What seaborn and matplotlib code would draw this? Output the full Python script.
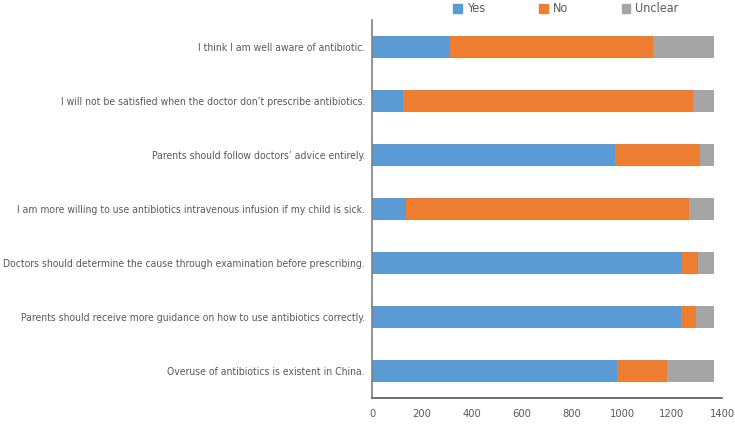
import numpy as np
import pandas as pd
import matplotlib.pyplot as plt
import seaborn as sns
from matplotlib.patches import Patch

statements = [
    "I think I am well aware of antibiotic.",
    "I will not be satisfied when the doctor don\u2019t prescribe antibiotics.",
    "Parents should follow doctors\u2019 advice entirely.",
    "I am more willing to use antibiotics intravenous infusion if my child is sick.",
    "Doctors should determine the cause through examination before prescribing.",
    "Parents should receive more guidance on how to use antibiotics correctly.",
    "Overuse of antibiotics is existent in China.",
]
yes = [312, 125, 972, 135, 1239, 1236, 981]
no = [812, 1160, 340, 1134, 64, 60, 199]
unclear = [244, 83, 56, 99, 65, 72, 188]

colors = {"Yes": "#5B9BD5", "No": "#ED7D31", "Unclear": "#A5A5A5"}

df = pd.DataFrame({"statement": statements, "Yes": yes, "No": no, "Unclear": unclear})
# cumulative ends for the stacked bars
df["yes_end"] = df["Yes"]
df["no_end"] = df["Yes"] + df["No"]
df["total"] = df["no_end"] + df["Unclear"]

sns.set_style("white")
plt.rcParams["font.family"] = ["DejaVu Sans"]
plt.rcParams["font.stretch"] = "condensed"

fig = plt.figure(figsize=(7.35, 4.28), dpi=100)
ax = fig.add_axes([372 / 735, 1 - 398 / 428, 350 / 735, 378 / 428])

# draw back to front: total (gray), yes+no (orange), yes (blue)
for col, key in [("total", "Unclear"), ("no_end", "No"), ("yes_end", "Yes")]:
    sns.barplot(data=df, x=col, y="statement", orient="h", color=colors[key],
                saturation=1, width=0.39, ax=ax, linewidth=0)

ax.set_xlim(0, 1400)
ax.set_ylim(6.5, -0.5)
ax.set_xticks(np.arange(0, 1401, 200))
ax.set_xlabel("")
ax.set_ylabel("")
ax.tick_params(axis="x", length=0, labelsize=8, colors="#595959", pad=8)
ax.tick_params(axis="y", length=0, labelsize=7.5, colors="#595959", pad=5)

for side in ["top", "right"]:
    ax.spines[side].set_visible(False)
ax.spines["left"].set_color("#808080")
ax.spines["bottom"].set_color("#595959")
ax.spines["left"].set_linewidth(1.2)
ax.spines["bottom"].set_linewidth(1.2)

handles = [Patch(color=colors[k], label=k) for k in ["Yes", "No", "Unclear"]]
fig.legend(handles=handles, loc="center", bbox_to_anchor=(566 / 735, 1 - 9 / 428),
           ncol=3, frameon=False, fontsize=9, handlelength=0.7, handleheight=0.7,
           handletextpad=0.4, columnspacing=4.3, labelcolor="#595959")

fig.savefig("out.png", dpi=100)
